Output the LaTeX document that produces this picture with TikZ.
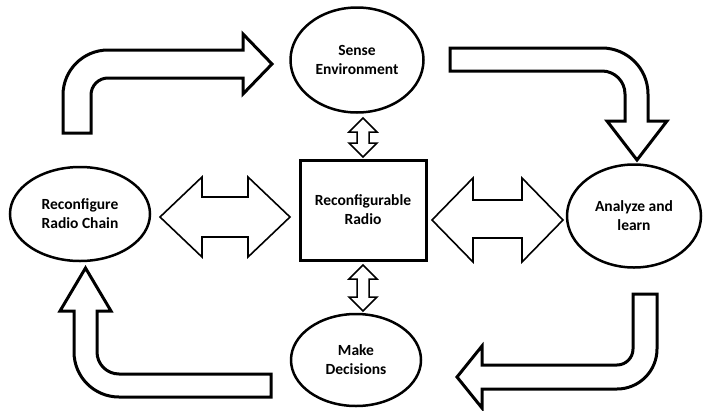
\documentclass[tikz,border=0pt]{standalone}
\usepackage{fontspec}
\setmainfont{Carlito}
\usetikzlibrary{shapes.geometric}

\tikzset{
  state/.style={ellipse, draw, line width=2.5pt, align=center,
    font=\fontsize{15.5}{19}\selectfont\bfseries, inner sep=0pt},
  core/.style={rectangle, draw, line width=3pt, align=center,
    font=\fontsize{15.5}{19}\selectfont\bfseries},
  bentarrow/.style={draw, fill=white, line width=3pt, line join=miter},
  wideflow/.style={draw, fill=white, line width=1.6pt, line join=miter},
  thinflow/.style={draw, fill=white, line width=1.5pt, line join=miter}
}

\begin{document}
\begin{tikzpicture}[x=1pt, y=-1pt]
  \useasboundingbox (0,0) rectangle (704,410);

  % the four stages and the radio
  \node[state, minimum width=133pt, minimum height=105pt] (sense) at (357,60) {Sense\\Environment};
  \node[state, minimum width=140pt, minimum height=94pt] (rcf) at (80,214) {Reconfigure\\Radio Chain};
  \node[state, minimum width=134pt, minimum height=103pt] (analyze) at (634,216) {Analyze and\\learn};
  \node[state, minimum width=130pt, minimum height=92pt] (decide) at (356,360) {Make\\Decisions};
  \node[core, minimum width=126pt, minimum height=100pt] (radio) at (363,210) {Reconfigurable\\Radio};

  % bent arrows of the cycle
  \draw[bentarrow] (63,133) -- (63,95) arc[start angle=180, end angle=270, radius=45]
    -- (243,50) -- (243,34) -- (272,64) -- (243,94) -- (243,78) -- (108,78)
    arc[start angle=270, end angle=180, radius=17] -- (91,133) -- cycle;
  \draw[bentarrow] (450,48) -- (602,48) arc[start angle=270, end angle=360, radius=46]
    -- (648,121) -- (667,121) -- (637,160) -- (607,121) -- (625,121) -- (625,94)
    arc[start angle=0, end angle=-90, radius=23] -- (450,71) -- cycle;
  \draw[bentarrow] (657,294) -- (657,349) arc[start angle=0, end angle=90, radius=40]
    -- (482,389) -- (482,408) -- (457,377) -- (482,346) -- (482,365) -- (617,365)
    arc[start angle=90, end angle=0, radius=16] -- (633,294) -- cycle;
  \draw[bentarrow] (271,397) -- (119,397) arc[start angle=90, end angle=180, radius=45]
    -- (74,311) -- (60,311) -- (85.5,268) -- (111,311) -- (97,311) -- (97,352)
    arc[start angle=180, end angle=90, radius=22] -- (271,374) -- cycle;

  % two-way arrows to the radio
  \draw[wideflow] (160,217) -- (202,177) -- (202,197) -- (248,197) -- (248,177)
    -- (290,217) -- (248,257) -- (248,237) -- (202,237) -- (202,257) -- cycle;
  \draw[wideflow] (432,220) -- (473,178) -- (473,200) -- (522,200) -- (522,178)
    -- (563,220) -- (522,262) -- (522,238) -- (473,238) -- (473,262) -- cycle;
  \draw[thinflow] (363,118) -- (377,132) -- (369,132) -- (369,143) -- (377,143)
    -- (363,157) -- (349,143) -- (357,143) -- (357,132) -- (349,132) -- cycle;
  \draw[thinflow] (363,265) -- (377,279) -- (369,279) -- (369,297) -- (377,297)
    -- (363,311) -- (349,297) -- (357,297) -- (357,279) -- (349,279) -- cycle;
\end{tikzpicture}
\end{document}
